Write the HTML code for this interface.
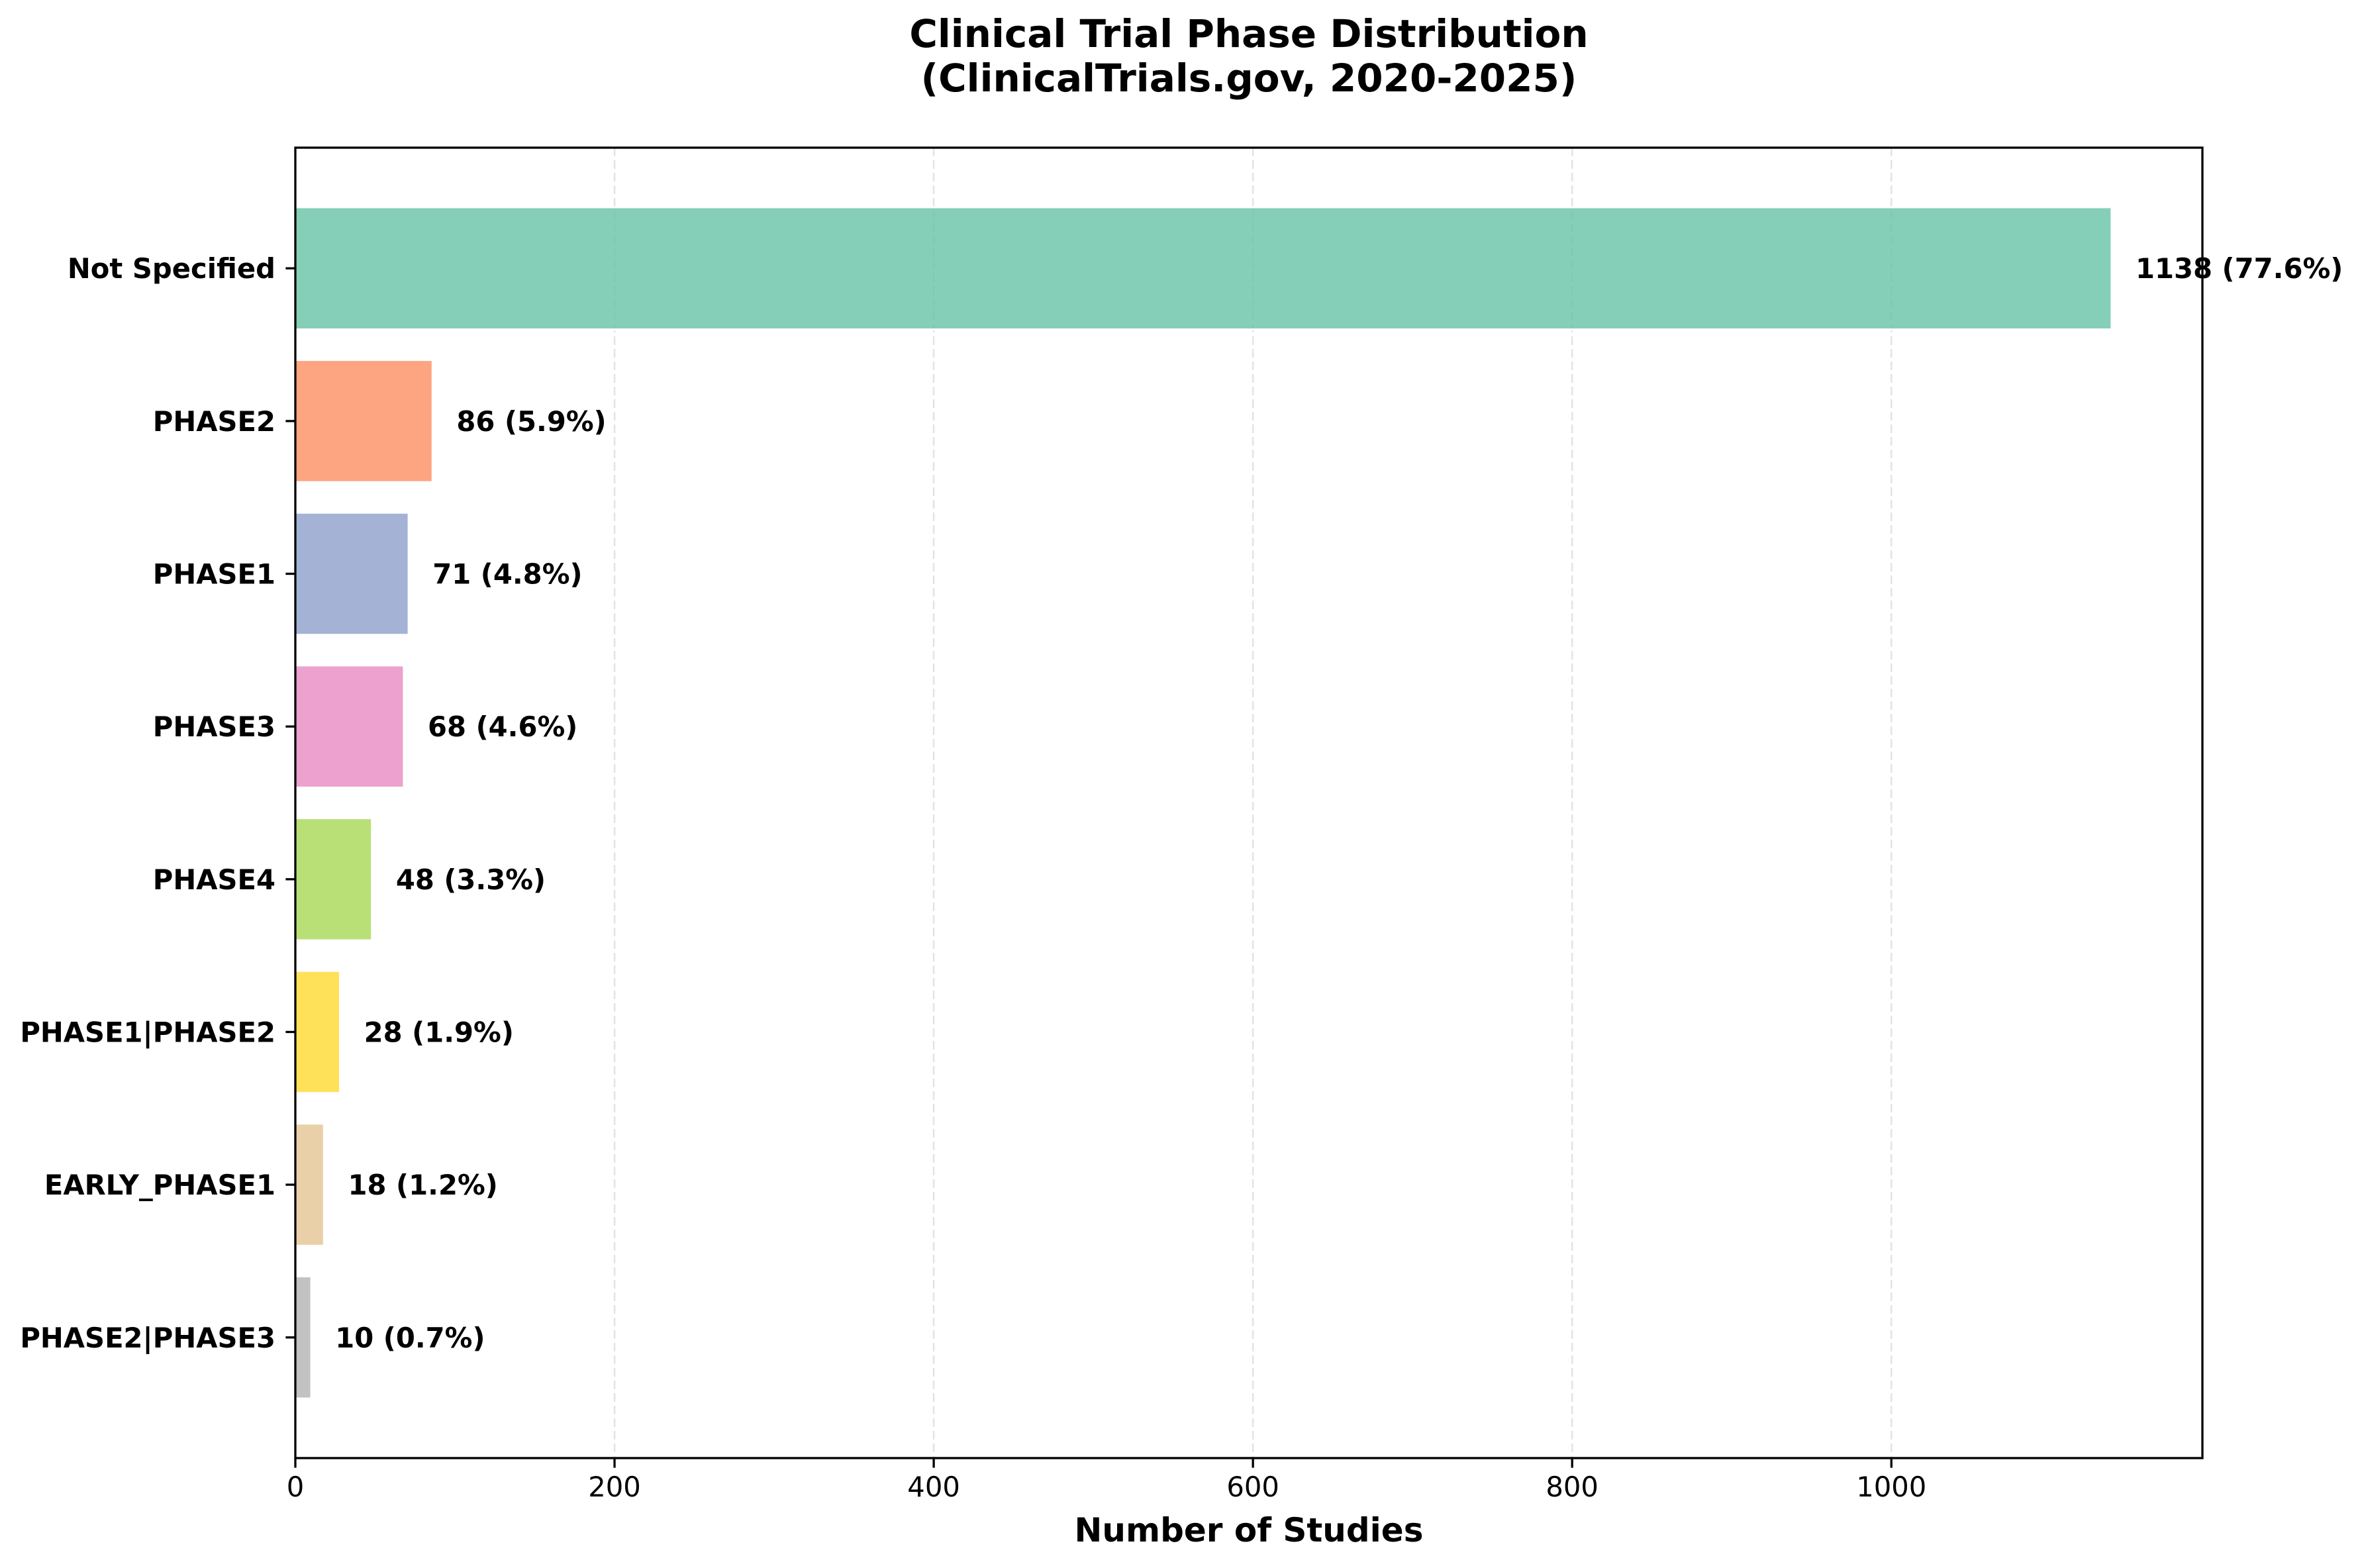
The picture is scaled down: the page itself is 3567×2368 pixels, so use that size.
<!DOCTYPE html>
<html><head><meta charset="utf-8"><style>
html,body{margin:0;padding:0;background:#fff}
svg{display:block;font-family:"DejaVu Sans","Liberation Sans",sans-serif}
</style></head><body>
<svg id="chart" width="3567" height="2368" viewBox="0 0 3567 2368" xmlns="http://www.w3.org/2000/svg">
<rect width="3567" height="2368" fill="#fff"/>
<text x="1886" y="71" text-anchor="middle" font-size="58" font-weight="bold">Clinical Trial Phase Distribution</text>
<text x="1886" y="138" text-anchor="middle" font-size="58" font-weight="bold">(ClinicalTrials.gov, 2020-2025)</text>
<g id="grid"></g><g id="bars"></g><g id="labels"></g><g id="ticks"></g>
<rect x="446" y="223" width="2880" height="1979" fill="none" stroke="#000" stroke-width="3.3"/>
<text x="1886" y="2328" text-anchor="middle" font-size="50" font-weight="bold">Number of Studies</text>
</svg>
<script>
const categories = ["Not Specified","PHASE2","PHASE1","PHASE3","PHASE4","PHASE1|PHASE2","EARLY_PHASE1","PHASE2|PHASE3"];
const counts = [1138,86,71,68,48,28,18,10];
const percents = ["77.6","5.9","4.8","4.6","3.3","1.9","1.2","0.7"];
const xTicks = [0,200,400,600,800,1000];
const colors = ["#66c2a5","#fc8d62","#8da0cb","#e78ac3","#a6d854","#ffd92f","#e5c494","#b3b3b3"];

const NS="http://www.w3.org/2000/svg";
const L=446,R=3326,T=223,B=2202;
const xMax=Math.max(...counts)*1.05;
const x=v=>L+v/xMax*(R-L);
const n=categories.length;
const yMin=-0.4-0.39, yMax=n-1+0.4+0.39;
const y=i=>T+(i-yMin)/(yMax-yMin)*(B-T);
const uh=(B-T)/(yMax-yMin);
function mk(tag,attrs,parent){const e=document.createElementNS(NS,tag);for(const k in attrs)e.setAttribute(k,attrs[k]);document.getElementById(parent).appendChild(e);return e;}

xTicks.forEach(t=>{
  if(t>0){const g=mk('line',{x1:x(t),x2:x(t),y1:T,y2:B,stroke:'#b0b0b0','stroke-opacity':0.35,'stroke-width':2.5,'stroke-dasharray':'13,6'},'grid');
  
  }
  const tk=mk('line',{x1:x(t),x2:x(t),y1:B,y2:B+14.6,stroke:'#000','stroke-width':3.3},'ticks');
  
  
  const tl=mk('text',{x:x(t),y:2260,'text-anchor':'middle','font-size':41.7},'ticks');
  tl.textContent=t;
  
  
});

categories.forEach((c,i)=>{
  const cy=y(i);
  const b=mk('rect',{x:L,y:cy-0.4*uh,width:x(counts[i])-L,height:0.8*uh,fill:colors[i],'fill-opacity':0.8,stroke:'#fff','stroke-width':3},'bars');
  
  
  const lb=mk('text',{x:x(counts[i]+15),y:cy+15,'font-size':41.7,'font-weight':'bold'},'labels');
  lb.textContent=counts[i]+" ("+percents[i]+"%)";
  
  
  const tk=mk('line',{x1:L-14.6,x2:L,y1:cy,y2:cy,stroke:'#000','stroke-width':3.3},'ticks');
  
  
  const tl=mk('text',{x:416,y:cy+15,'text-anchor':'end','font-size':41.7,'font-weight':'bold'},'ticks');
  tl.textContent=c;
  
  
});
</script>
</body></html>
